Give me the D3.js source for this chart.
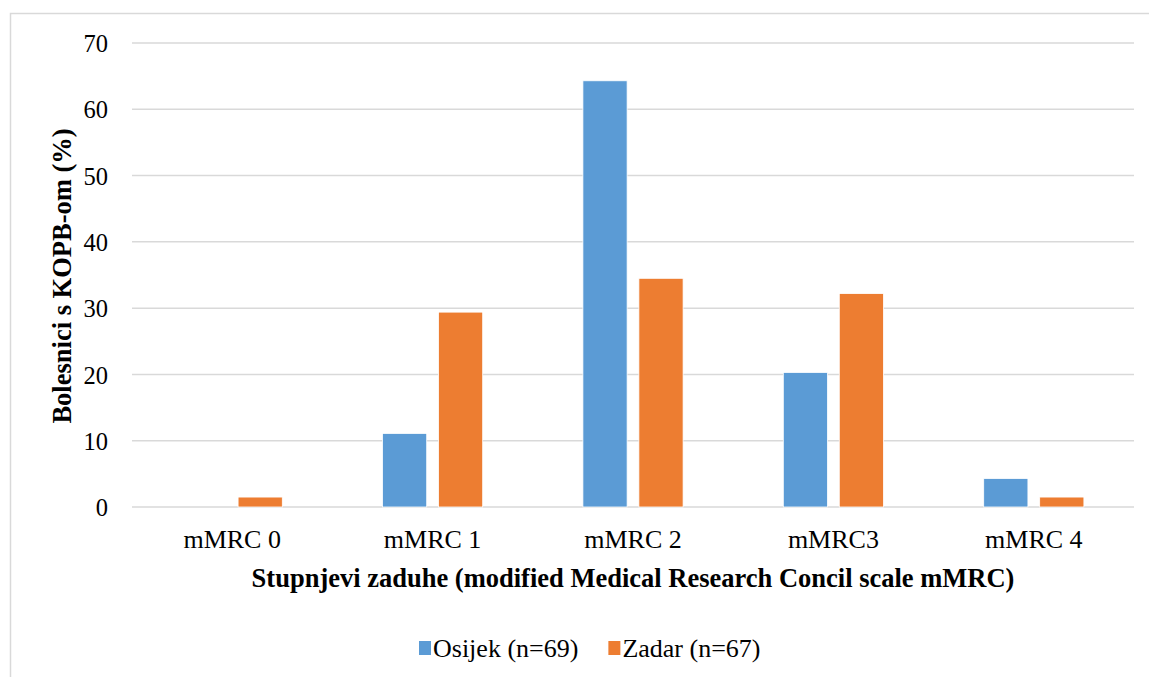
<!DOCTYPE html>
<html>
<head>
<meta charset="utf-8">
<script src="https://cdn.jsdelivr.net/npm/d3@7"></script>
<style>
  body { margin: 0; background: #fff; }
</style>
</head>
<body>
<div id="chart"></div>
<script>
const categories = ["mMRC 0", "mMRC 1", "mMRC 2", "mMRC3", "mMRC 4"];
const seriesNames = ["Osijek (n=69)", "Zadar (n=67)"];
const osijek = [0, 11.1, 64.3, 20.3, 4.3];
const zadar = [1.5, 29.4, 34.5, 32.2, 1.5];
const yTicks = [0, 10, 20, 30, 40, 50, 60, 70];
const colors = ["#5b9bd5", "#ed7d31"];

const FONT = "'Liberation Serif', 'Times New Roman', serif";
const W = 1149, H = 677;
const margin = {top: 43, right: 15, bottom: 170, left: 132};
const width = W - margin.left - margin.right,
      height = H - margin.top - margin.bottom;

const rows = categories.map((c, i) => ({cat: c, vals: [osijek[i], zadar[i]]}));

const svg = d3.select('#chart')
  .append('svg')
  .attr('width', W)
  .attr('height', H);

// outer frame
svg.append('rect')
  .attr('x', 10.5).attr('y', 13.5)
  .attr('width', W + 20).attr('height', H + 20)
  .attr('fill', 'none')
  .attr('stroke', '#d9d9d9')
  .attr('stroke-width', 1.5);

const g = svg.append('g')
  .attr('transform', `translate(${margin.left},${margin.top})`);

const x0 = d3.scaleBand()
  .domain(categories)
  .range([0, width])
  .paddingInner(0.5)
  .paddingOuter(0.25);

const x1 = d3.scaleBand()
  .domain([0, 1])
  .range([0, x0.bandwidth()])
  .paddingInner(0.21);

const y = d3.scaleLinear()
  .domain([0, 70])
  .range([height, 0]);

// grid lines
g.append('g')
  .selectAll('line')
  .data(yTicks)
  .enter()
  .append('line')
    .attr('x1', 0)
    .attr('x2', width)
    .attr('y1', d => y(d))
    .attr('y2', d => y(d))
    .attr('stroke', '#d9d9d9')
    .attr('stroke-width', 1.5);

// y axis labels
const yAxis = d3.axisLeft(y).tickValues(yTicks).tickSize(0).tickPadding(24);
g.append('g')
  .call(yAxis)
  .call(a => a.select('.domain').remove())
  .selectAll('text')
    .style('font-family', FONT)
    .style('font-size', '24.5px')
    .attr('fill', '#000')
    .attr('dy', '0.35em');

// bars
const groups = g.selectAll('.grp')
  .data(rows)
  .enter()
  .append('g')
    .attr('class', 'grp')
    .attr('transform', d => `translate(${x0(d.cat)},0)`);

groups.selectAll('rect')
  .data(d => d.vals.map((v, k) => ({k: k, v: v})))
  .enter()
  .append('rect')
    .attr('x', d => x1(d.k))
    .attr('width', x1.bandwidth())
    .attr('y', d => y(d.v))
    .attr('height', d => height - y(d.v))
    .attr('fill', d => colors[d.k])
    .attr('stroke', '#fff')
    .attr('stroke-width', d => d.v > 0 ? 0.8 : 0);

// x axis labels
const xAxis = d3.axisBottom(x0).tickSize(0).tickPadding(0);
g.append('g')
  .attr('transform', `translate(0,${height})`)
  .call(xAxis)
  .call(a => a.select('.domain').remove())
  .selectAll('text')
    .style('font-family', FONT)
    .style('font-size', '26px')
    .attr('fill', '#000')
    .attr('dy', null)
    .attr('y', 41);

// axis titles
svg.append('text')
  .attr('x', 633)
  .attr('y', 587)
  .style('font-family', FONT)
  .style('text-anchor', 'middle')
  .style('font-size', '26.5px')
  .style('font-weight', 'bold')
  .text('Stupnjevi zaduhe (modified Medical Research Concil scale mMRC)');

svg.append('text')
  .attr('transform', 'translate(71,276) rotate(-90)')
  .style('font-family', FONT)
  .style('text-anchor', 'middle')
  .style('font-size', '26.5px')
  .style('font-weight', 'bold')
  .text('Bolesnici s KOPB-om (%)');

// legend
const legend = svg.append('g').attr('transform', 'translate(419,648)');
let lx = 0;
seriesNames.forEach((name, i) => {
  const item = legend.append('g').attr('transform', `translate(${lx},0)`);
  item.append('rect')
    .attr('x', 0).attr('y', -7)
    .attr('width', 12).attr('height', 14)
    .attr('fill', colors[i]);
  const t = item.append('text')
    .attr('x', 14).attr('y', 8.5)
    .style('font-family', FONT)
    .style('font-size', '26px')
    .text(name);
  lx += 14 + t.node().getComputedTextLength() + 30;
});
</script>
</body>
</html>
